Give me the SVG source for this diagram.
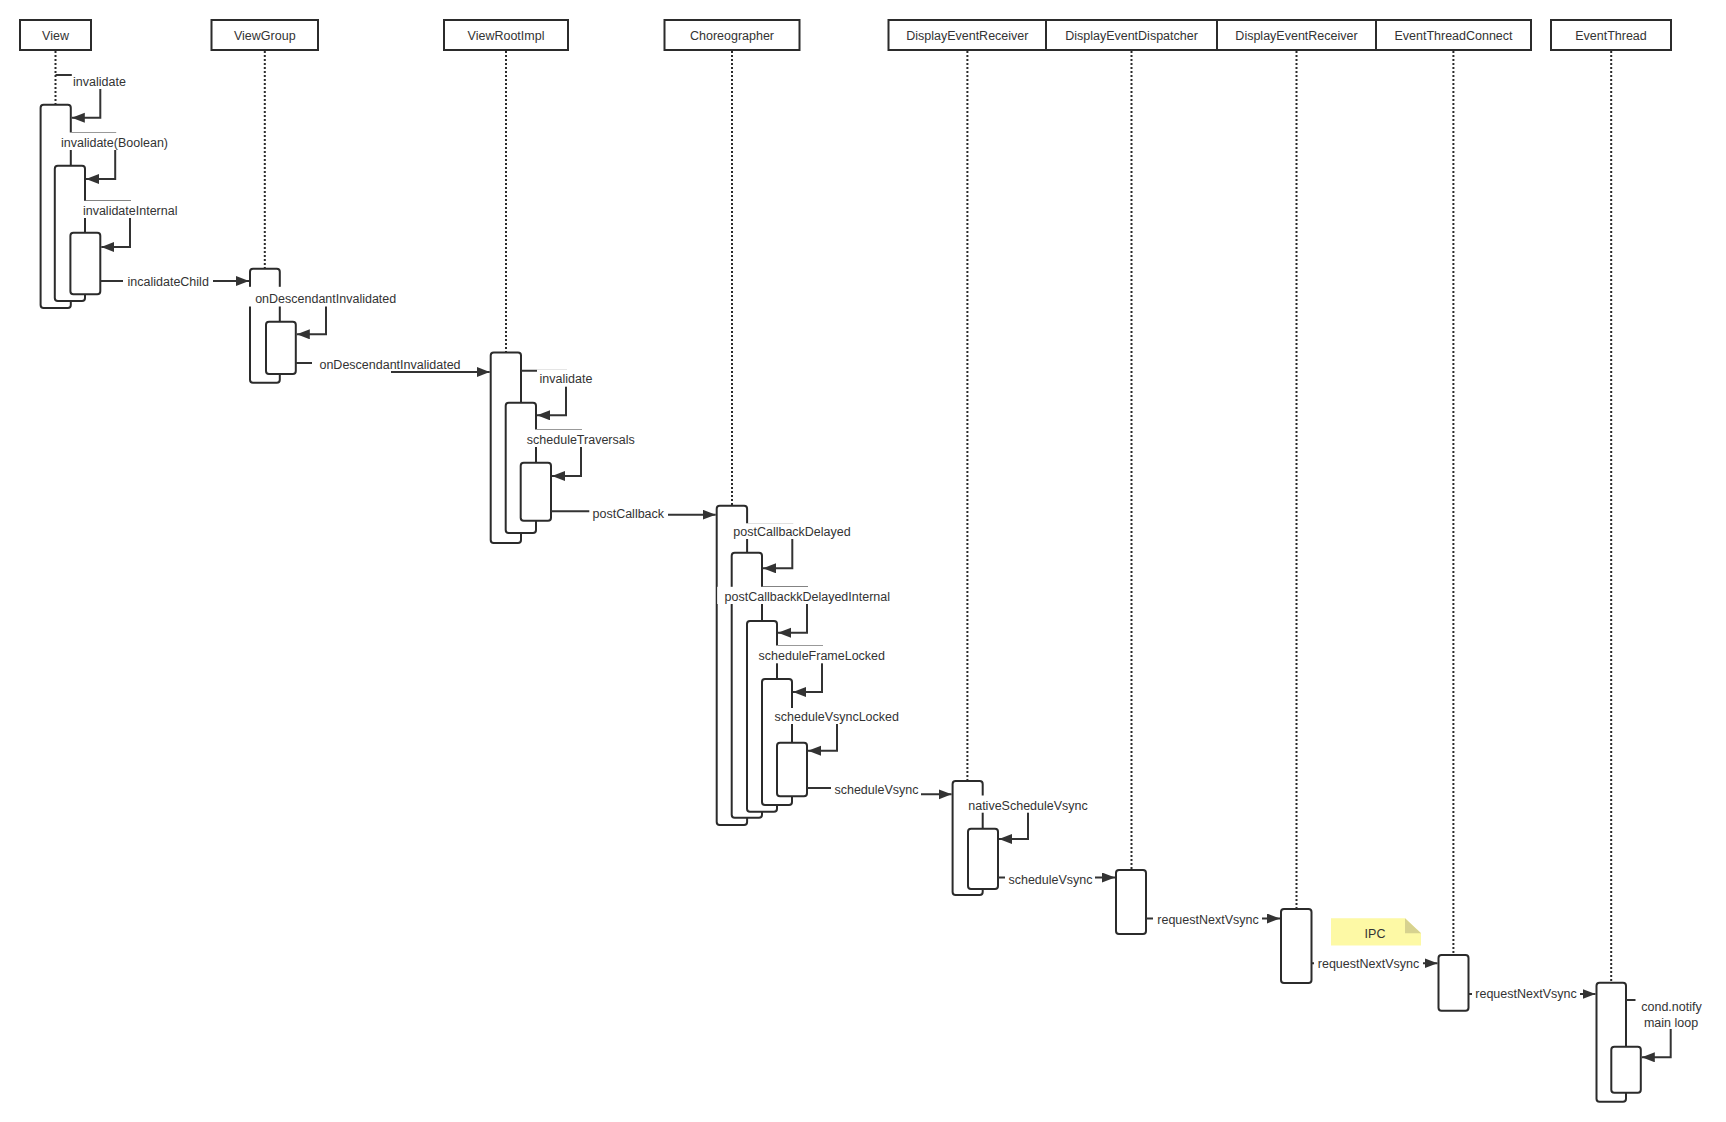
<svg xmlns="http://www.w3.org/2000/svg" width="1726" height="1122" viewBox="0 0 1726 1122">
<defs>
<style>
.hdr{fill:#fff;stroke:#2b2b2b;stroke-width:2}
.bar{fill:#fff;stroke:#2b2b2b;stroke-width:2}
.life{fill:none;stroke:#2b2b2b;stroke-width:2;stroke-dasharray:2 2}
.msg{fill:none;stroke:#333;stroke-width:2;marker-end:url(#arr)}
.lbg{fill:#fff}
.t{font-family:"Liberation Sans",Arial,sans-serif;font-size:12.5px;fill:#333;text-anchor:middle}
</style>
<marker id="arr" markerUnits="userSpaceOnUse" markerWidth="14" markerHeight="11" refX="13" refY="5" orient="auto">
<path d="M0,0 L13,5 L0,10 z" fill="#333"/>
</marker>
</defs>
<rect width="1726" height="1122" fill="#fff"/>

<g id="node-view">
<rect class="hdr" x="20" y="20" width="71" height="30"/>
<text class="t" x="55.5" y="39.5">View</text>
<line class="life" x1="55.5" y1="51" x2="55.5" y2="104.5"/>
<rect class="bar" x="40.6" y="104.7" width="30.2" height="203.3" rx="3"/>
<rect class="bar" x="54.8" y="165.7" width="30.2" height="135.3" rx="3"/>
<rect class="bar" x="70.4" y="232.7" width="29.9" height="61.6" rx="3"/>
</g>

<g id="node-viewgroup">
<rect class="hdr" x="211.5" y="20" width="106.5" height="30"/>
<text class="t" x="264.8" y="39.5">ViewGroup</text>
<line class="life" x1="264.8" y1="51" x2="264.8" y2="268.5"/>
<rect class="bar" x="250" y="268.7" width="29.8" height="114" rx="3"/>
<rect class="bar" x="266" y="321.7" width="29.8" height="52.3" rx="3"/>
</g>

<g id="node-viewrootimpl">
<rect class="hdr" x="444" y="20" width="124" height="30"/>
<text class="t" x="506" y="39.5">ViewRootImpl</text>
<line class="life" x1="506" y1="51" x2="506" y2="352.5"/>
<rect class="bar" x="490.7" y="352.5" width="30.3" height="190.5" rx="3"/>
<rect class="bar" x="505.7" y="402.7" width="30.3" height="130.3" rx="3"/>
<rect class="bar" x="520.7" y="462.7" width="30.3" height="58" rx="3"/>
</g>

<g id="node-choreographer">
<rect class="hdr" x="664.5" y="20" width="135" height="30"/>
<text class="t" x="732" y="39.5">Choreographer</text>
<line class="life" x1="732" y1="51" x2="732" y2="505.5"/>
<rect class="bar" x="716.7" y="505.7" width="30.4" height="319.3" rx="3"/>
<rect class="bar" x="731.7" y="552.7" width="30.3" height="265" rx="3"/>
<rect class="bar" x="747" y="621" width="30" height="190.7" rx="3"/>
<rect class="bar" x="762" y="679" width="30" height="126" rx="3"/>
<rect class="bar" x="777" y="742.7" width="30" height="53.6" rx="3"/>
</g>

<g id="node-displayeventreceiver-1">
<rect class="hdr" x="888.5" y="20" width="157.5" height="30"/>
<text class="t" x="967.3" y="39.5">DisplayEventReceiver</text>
<line class="life" x1="967.4" y1="51" x2="967.4" y2="781"/>
<rect class="bar" x="952.6" y="781" width="30.1" height="114" rx="3"/>
<rect class="bar" x="968" y="828.7" width="30" height="60.3" rx="3"/>
</g>

<g id="node-displayeventdispatcher">
<rect class="hdr" x="1046" y="20" width="171" height="30"/>
<text class="t" x="1131.5" y="39.5">DisplayEventDispatcher</text>
<line class="life" x1="1131.5" y1="51" x2="1131.5" y2="870"/>
<rect class="bar" x="1116" y="870" width="30" height="64" rx="3"/>
</g>

<g id="node-displayeventreceiver-2">
<rect class="hdr" x="1217" y="20" width="159" height="30"/>
<text class="t" x="1296.5" y="39.5">DisplayEventReceiver</text>
<line class="life" x1="1296.5" y1="51" x2="1296.5" y2="909"/>
<rect class="bar" x="1281" y="909" width="30.5" height="74" rx="3"/>
</g>

<g id="node-eventthreadconnect">
<rect class="hdr" x="1376" y="20" width="155" height="30"/>
<text class="t" x="1453.5" y="39.5">EventThreadConnect</text>
<line class="life" x1="1453.4" y1="51" x2="1453.4" y2="955"/>
<rect class="bar" x="1438.5" y="955" width="30" height="55.7" rx="3"/>
</g>

<g id="node-eventthread">
<rect class="hdr" x="1551" y="20" width="120" height="30"/>
<text class="t" x="1611" y="39.5">EventThread</text>
<line class="life" x1="1611.2" y1="51" x2="1611.2" y2="982.5"/>
<rect class="bar" x="1596.5" y="982.7" width="29.5" height="119" rx="3"/>
<rect class="bar" x="1611.3" y="1046.7" width="29.5" height="46" rx="3"/>
</g>

<g id="note-ipc">
<polygon points="1331,918.3 1405,918.3 1421,933.3 1421,945.5 1331,945.5" fill="#fdf9a5"/>
<polygon points="1405,918.3 1405,933.3 1421,933.3" fill="#d7d28f"/>
<text class="t" x="1375" y="937.8">IPC</text>
</g>

<g id="connectors">
<path class="msg" d="M55.5,75 H100.3 V117.7 H71.8"/>
<path class="msg" d="M70.8,133 H115.2 V179 H86"/>
<path class="msg" d="M85,201.3 H130 V247 H101.3"/>
<path class="msg" d="M100.3,281 H249"/>
<path class="msg" d="M279.8,288 H326 V334.3 H296.8"/>
<path class="msg" d="M295.8,363 H392 V372 H489.7"/>
<path class="msg" d="M521,370.7 H566 V415.3 H537"/>
<path class="msg" d="M536,430 H581 V476 H552"/>
<path class="msg" d="M551,511.3 H640 V514.7 H715.7"/>
<path class="msg" d="M747,524.5 H792.3 V568.3 H763"/>
<path class="msg" d="M762,587.3 H807 V632.7 H778"/>
<path class="msg" d="M777,646 H822 V692 H793"/>
<path class="msg" d="M792,709 H837 V750.7 H808"/>
<path class="msg" d="M807,788 H880 V794.3 H951.6"/>
<path class="msg" d="M982.7,797 H1028 V839 H999"/>
<path class="msg" d="M998,877.5 H1115"/>
<path class="msg" d="M1146,918.5 H1280"/>
<path class="msg" d="M1311.5,963.3 H1437.5"/>
<path class="msg" d="M1468.5,994 H1595.5"/>
<path class="msg" d="M1626,1000 H1670.7 V1057.3 H1641.8"/>

<rect class="lbg" x="71.8" y="73.5" width="56" height="15.5"/>
<text class="t" x="99.5" y="86.2">invalidate</text>
<rect class="lbg" x="58" y="132.5" width="113" height="17.5"/>
<text class="t" x="114.5" y="147.2">invalidate(Boolean)</text>
<rect class="lbg" x="80" y="200.8" width="101" height="17.2"/>
<text class="t" x="130.2" y="215.2">invalidateInternal</text>
<rect class="lbg" x="123" y="273" width="90" height="16"/>
<text class="t" x="168.2" y="285.5">incalidateChild</text>
<rect class="lbg" x="248.5" y="286.8" width="151.5" height="19.7"/>
<text class="t" x="325.7" y="302.8">onDescendantInvalidated</text>
<rect class="lbg" x="312" y="355" width="153" height="16"/>
<text class="t" x="390" y="368.5">onDescendantInvalidated</text>
<rect class="lbg" x="537" y="369.5" width="58" height="17.2"/>
<text class="t" x="566" y="383.2">invalidate</text>
<rect class="lbg" x="523.5" y="429.5" width="114.5" height="17.5"/>
<text class="t" x="580.8" y="443.8">scheduleTraversals</text>
<rect class="lbg" x="589.3" y="504" width="78.7" height="12.5"/>
<text class="t" x="628.3" y="517.5">postCallback</text>
<rect class="lbg" x="730" y="523.3" width="124" height="15.7"/>
<text class="t" x="792" y="535.5">postCallbackDelayed</text>
<rect class="lbg" x="717.2" y="586.8" width="175.8" height="17.2"/>
<text class="t" x="807.3" y="600.8">postCallbackkDelayedInternal</text>
<rect class="lbg" x="756" y="645.5" width="132" height="17.8"/>
<text class="t" x="821.8" y="660.2">scheduleFrameLocked</text>
<rect class="lbg" x="773" y="708" width="128" height="16"/>
<text class="t" x="836.8" y="720.5">scheduleVsyncLocked</text>
<rect class="lbg" x="831" y="780" width="90" height="16"/>
<text class="t" x="876.5" y="793.5">scheduleVsync</text>
<rect class="lbg" x="966" y="795.5" width="124" height="17.2"/>
<text class="t" x="1028" y="810">nativeScheduleVsync</text>
<rect class="lbg" x="1005" y="871" width="90" height="16"/>
<text class="t" x="1050.5" y="883.8">scheduleVsync</text>
<rect class="lbg" x="1153" y="911" width="109" height="16"/>
<text class="t" x="1208" y="923.8">requestNextVsync</text>
<rect class="lbg" x="1314" y="955" width="109" height="16"/>
<text class="t" x="1368.5" y="967.8">requestNextVsync</text>
<rect class="lbg" x="1472" y="985.5" width="108" height="16"/>
<text class="t" x="1526" y="998">requestNextVsync</text>
<rect class="lbg" x="1635.5" y="998" width="71.5" height="31"/>
<text class="t" x="1671.5" y="1011.2">cond.notify</text>
<text class="t" x="1671" y="1026.8">main loop</text>
</g>
</svg>
